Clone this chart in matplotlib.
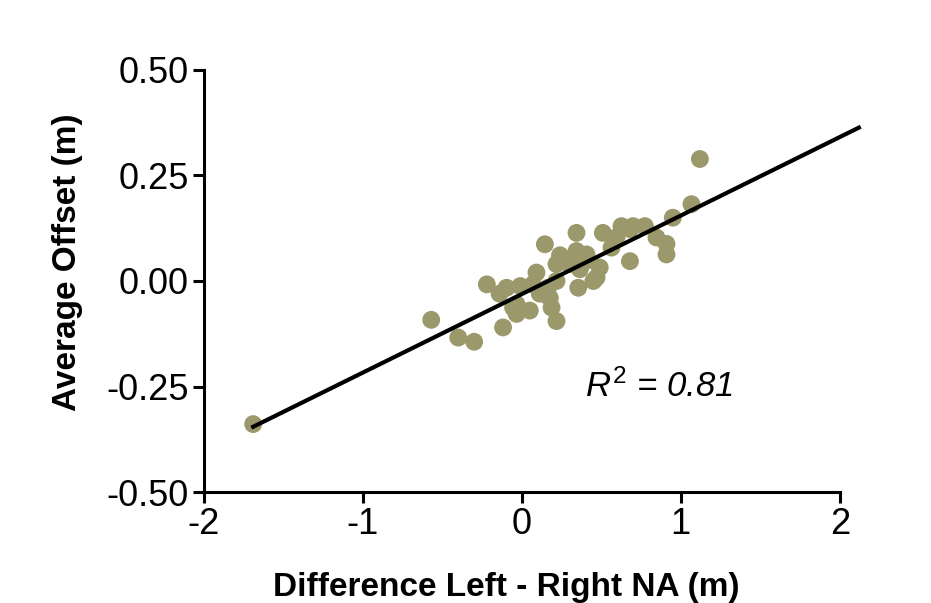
import matplotlib
matplotlib.use("Agg")
import matplotlib.pyplot as plt
import numpy as np

plt.rcParams['font.family'] = ['Liberation Sans', 'DejaVu Sans']
plt.rcParams['mathtext.fontset'] = 'custom'
plt.rcParams['mathtext.rm'] = 'Liberation Sans'
plt.rcParams['mathtext.it'] = 'Liberation Sans:italic'

# values
diff_na = [1.12, 1.067, 0.95, 0.774, 0.627, 0.68, 0.847, 0.91, 0.91, 0.68,
           0.51, 0.344, 0.145, 0.344, 0.407, 0.26, 0.218, 0.365, 0.49, 0.47,
           0.45, 0.355, 0.092, 0.218, -0.22, -0.096, -0.01, -0.14, 0.113, 0.176,
           -0.033, 0.05, -0.033, 0.187, 0.218, -0.118, -0.57, -0.40, -0.30, 0.564,
           0.596, 0.70, 0.24, 0.30, 0.40, 0.165, 0.07, -0.055, -1.69]
avg_offset = [0.289, 0.182, 0.15, 0.13, 0.13, 0.123, 0.103, 0.088, 0.063, 0.047,
              0.114, 0.114, 0.087, 0.071, 0.063, 0.052, 0.04, 0.028, 0.032, 0.008,
              0.0, -0.016, 0.02, 0.0, -0.008, -0.016, -0.012, -0.03, -0.03, -0.04,
              -0.055, -0.07, -0.078, -0.063, -0.095, -0.11, -0.092, -0.134, -0.144, 0.079,
              0.104, 0.13, 0.061, 0.04, 0.047, -0.016, -0.008, -0.063, -0.339]

fit_slope = 0.186
fit_intercept = -0.031
fit_range = [-1.69, 2.12]

x_ticks = [-2, -1, 0, 1, 2]
y_ticks = [-0.50, -0.25, 0.00, 0.25, 0.50]

fig = plt.figure(figsize=(9.31, 6.03), dpi=100)
ax = fig.add_axes([0.219, 0.184, 0.683, 0.700])

ax.scatter(diff_na, avg_offset, s=165, color='#9b996b', edgecolors='none', zorder=2)

fx = np.array(fit_range)
ax.plot(fx, fit_slope * fx + fit_intercept, color='black', lw=3, clip_on=False, zorder=3)

ax.set_xlim(-2, 2)
ax.set_ylim(-0.5, 0.5)
ax.set_xticks(x_ticks)
ax.set_xticklabels([f"{t:d}" for t in x_ticks])
ax.set_yticks(y_ticks)
ax.set_yticklabels([f"{t:.2f}" for t in y_ticks])

for side in ['top', 'right']:
    ax.spines[side].set_visible(False)
for side in ['left', 'bottom']:
    ax.spines[side].set_linewidth(2.2)
ax.tick_params(width=2.2, length=8, labelsize=26, pad=3)

ax.set_xlabel('Difference Left - Right NA (m)', fontsize=24, fontweight='bold')
ax.set_ylabel('Average Offset (m)', fontsize=24, fontweight='bold')
ax.xaxis.set_label_coords(0.476, -0.19)
ax.yaxis.set_label_coords(-0.19, 0.545)

ax.text(0.40, -0.25, r'$\mathit{R}^{\mathrm{2}}$ = 0.81', fontsize=25, style='italic',
        ha='left', va='center')

fig.savefig('out.png', dpi=100)
